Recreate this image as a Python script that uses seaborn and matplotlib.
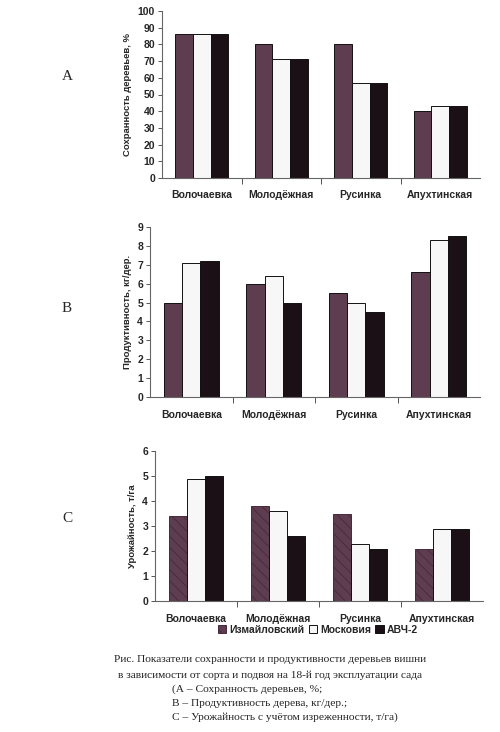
import matplotlib
matplotlib.use("Agg")
import matplotlib.pyplot as plt
import seaborn as sns
import pandas as pd

sns.set_theme(style="white")
plt.rcParams['font.family'] = ['Liberation Sans', 'DejaVu Sans']
plt.rcParams['hatch.linewidth'] = 0.6

categories = ["Волочаевка", "Молодёжная", "Русинка", "Апухтинская"]
series = ["Измайловский", "Московия", "АВЧ-2"]

survival = {"Измайловский": [86, 80, 80, 40],
            "Московия": [86, 71, 57, 43],
            "АВЧ-2": [86, 71, 57, 43]}
productivity = {"Измайловский": [5.0, 6.0, 5.5, 6.6],
                "Московия": [7.1, 6.4, 5.0, 8.3],
                "АВЧ-2": [7.2, 5.0, 4.5, 8.5]}
yield_ = {"Измайловский": [3.4, 3.8, 3.5, 2.1],
          "Московия": [4.9, 3.6, 2.3, 2.9],
          "АВЧ-2": [5.0, 2.6, 2.1, 2.9]}

ylabels = ["Сохранность деревьев, %", "Продуктивность, кг/дер.", "Урожайность, т/га"]
yticks = [list(range(0, 101, 10)), list(range(0, 10)), list(range(0, 7))]
ylims = [100, 9, 6]
panel_letters = ["A", "B", "C"]

colors = ["#5e3d50", "#f7f7f7", "#1b1016"]

W, H = 500, 732
fig = plt.figure(figsize=(W / 100, H / 100), dpi=100)
fig.patch.set_facecolor("white")

# pixel boxes: left, right, top, bottom
boxes = [(162, 480, 11, 178), (150, 480, 227, 397), (155, 483, 451, 601)]
letter_y = [77, 308, 518]

def to_df(d):
    rows = []
    for s in series:
        for c, v in zip(categories, d[s]):
            rows.append({"cat": c, "series": s, "value": v})
    return pd.DataFrame(rows)

HATCH = "\\\\\\"
HATCH_COLOR = "#47293a"

axes = []
for i, data in enumerate([survival, productivity, yield_]):
    l, r, t, b = boxes[i]
    ax = fig.add_axes([l / W, (H - b) / H, (r - l) / W, (b - t) / H])
    df = to_df(data)
    sns.barplot(data=df, x="cat", y="value", hue="series", hue_order=series,
                order=categories, palette=colors, width=0.67, ax=ax,
                edgecolor="#111111", linewidth=0.7, saturation=1, legend=(i == 2),
                errorbar=None)
    if i == 2:
        for p in ax.patches[:4]:
            p.set_hatch(HATCH)
            p.set_edgecolor(HATCH_COLOR)
    ax.set_xlim(-0.5, 3.5)
    ax.set_ylim(0, ylims[i])
    ax.set_yticks(yticks[i])
    ax.set_yticklabels([str(v) for v in yticks[i]], fontsize=7.5, fontweight="bold")
    ax.set_xticks(range(4))
    ax.set_xticklabels(categories, fontsize=7.5, fontweight="bold")
    ax.set_xticks([0.5, 1.5, 2.5], minor=True)
    ax.tick_params(axis="x", which="major", length=0, pad=9)
    ax.tick_params(axis="x", which="minor", length=4, width=0.7, color="#555555", direction="out", bottom=True)
    ax.tick_params(axis="y", length=3, width=0.7, color="#555555", direction="out", left=True, pad=2)
    ax.set_xlabel("")
    ax.set_ylabel(ylabels[i], fontsize=6.8, fontweight="bold", labelpad=4)
    for sp in ["top", "right"]:
        ax.spines[sp].set_visible(False)
    for sp in ["left", "bottom"]:
        ax.spines[sp].set_color("#666666")
        ax.spines[sp].set_linewidth(0.8)
    ax.set_facecolor("white")
    fig.text(62 / W, 1 - letter_y[i] / H, panel_letters[i], fontsize=11,
             family="Liberation Serif", ha="left", va="center")
    axes.append(ax)

axC = axes[2]
handles, labels = axC.get_legend_handles_labels()
axC.get_legend().remove()
leg = fig.legend(handles, labels, loc="center", bbox_to_anchor=(318 / W, 1 - 630 / H),
                 ncol=3, frameon=False, prop={"weight": "bold", "size": 7.5},
                 handlelength=0.8, handleheight=0.8, handletextpad=0.3, columnspacing=0.4,
                 borderpad=0.1)
lh = leg.legend_handles[0]
lh.set_hatch(HATCH)
lh.set_edgecolor(HATCH_COLOR)

caption_lines = [
    ("Рис. Показатели сохранности и продуктивности деревьев вишни", 270, 660, "center"),
    ("в зависимости от сорта и подвоя на 18-й год эксплуатации сада", 270, 675, "center"),
    ("(А – Сохранность деревьев, %;", 172, 689, "left"),
    ("В – Продуктивность дерева, кг/дер.;", 172, 703, "left"),
    ("С – Урожайность с учётом изреженности, т/га)", 172, 717, "left"),
]
for txt, x, y, ha in caption_lines:
    fig.text(x / W, 1 - y / H, txt, fontsize=8.2, family="Liberation Serif",
             ha=ha, va="center", color="#222222")

fig.savefig("out.png", dpi=100, facecolor="white")
